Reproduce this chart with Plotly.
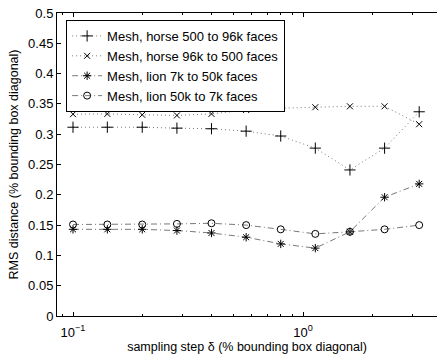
import plotly.graph_objects as go

# sampling step delta (% bounding box diagonal)
x_steps = [0.1, 0.141, 0.2, 0.283, 0.4, 0.566, 0.8, 1.131, 1.6, 2.263, 3.2]

horse_500_to_96k = [0.3115, 0.3115, 0.3115, 0.310, 0.309, 0.305, 0.297, 0.277, 0.241, 0.277, 0.337]
horse_96k_to_500 = [0.333, 0.3335, 0.332, 0.331, 0.3335, 0.340, 0.343, 0.3445, 0.346, 0.346, 0.3165]
lion_7k_to_50k = [0.143, 0.143, 0.143, 0.141, 0.137, 0.130, 0.119, 0.112, 0.139, 0.196, 0.218]
lion_50k_to_7k = [0.151, 0.151, 0.151, 0.152, 0.153, 0.150, 0.143, 0.1355, 0.139, 0.143, 0.150]

names = ["Mesh, horse 500 to 96k faces", "Mesh, horse 96k to 500 faces",
         "Mesh, lion 7k to 50k faces", "Mesh, lion 50k to 7k faces"]

y_ticks = [0, 0.05, 0.1, 0.15, 0.2, 0.25, 0.3, 0.35, 0.4, 0.45, 0.5]
x_major = [0.1, 1]
x_major_text = ["10<sup>\u22121</sup>", "10<sup>0</sup>"]
x_minor = [0.09, 0.2, 0.3, 0.4, 0.5, 0.6, 0.7, 0.8, 0.9, 2, 3]

series = [horse_500_to_96k, horse_96k_to_500, lion_7k_to_50k, lion_50k_to_7k]
symbols = ["cross-thin-open", "x-thin-open", "asterisk-open", "circle-open"]
sizes = [8, 6, 7, 7]
dashes = ["1px,3px", "1px,3px", "6px,3px,1px,3px", "6px,3px,1px,3px"]

FONT = "Liberation Sans, Arial, sans-serif"

fig = go.Figure()
for ys, nm, sym, sz, dsh in zip(series, names, symbols, sizes, dashes):
    fig.add_trace(go.Scatter(
        x=x_steps, y=ys, name=nm, mode="lines+markers",
        line=dict(color="#555555", width=0.8, dash=dsh),
        marker=dict(symbol=sym, size=sz, color="black", line=dict(color="black", width=1)),
    ))

fig.update_layout(
    width=437, height=354,
    margin=dict(l=57, r=0, t=13, b=38),
    paper_bgcolor="white", plot_bgcolor="white",
    font=dict(family=FONT, size=13, color="black"),
    showlegend=True,
    legend=dict(
        x=0.024, y=0.977, xanchor="left", yanchor="top",
        bgcolor="white", bordercolor="black", borderwidth=1,
        font=dict(size=13), tracegroupgap=0, itemwidth=30,
    ),
    xaxis=dict(
        type="log", range=[-1.0696, 0.5826],
        tickmode="array", tickvals=x_major, ticktext=x_major_text,
        ticks="inside", ticklen=4, tickcolor="black",
        showline=True, linecolor="black", linewidth=1, mirror="ticks",
        showgrid=False, zeroline=False,
        minor=dict(tickmode="array", tickvals=x_minor, ticks="inside", ticklen=2, tickcolor="black", showgrid=False),
        title=dict(text="sampling step \u03b4 (% bounding box diagonal)", font=dict(size=12.5), standoff=3),
        tickfont=dict(size=13),
        ticklabelstandoff=4,
        automargin=False,
    ),
    yaxis=dict(
        range=[0, 0.5], tickmode="array", tickvals=y_ticks,
        ticks="inside", ticklen=4, tickcolor="black",
        showline=True, linecolor="black", linewidth=1, mirror=False,
        showgrid=False, zeroline=False,
        title=dict(text="RMS distance (% bounding box diagonal)", font=dict(size=12.5), standoff=6),
        tickfont=dict(size=13),
        automargin=False,
    ),
)

fig.write_html(
    "out.html",
    config={"displayModeBar": False, "responsive": False},
    post_script="document.body.style.margin='0';document.body.style.overflow='hidden';",
)
